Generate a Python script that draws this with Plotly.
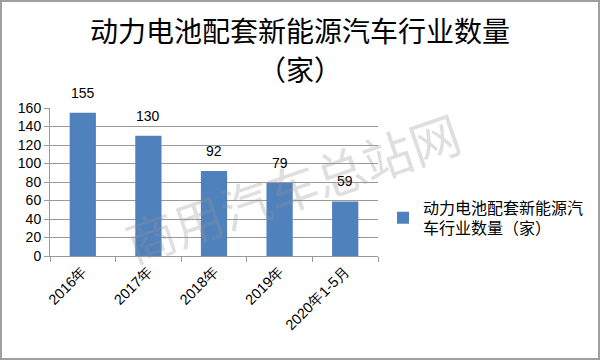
import plotly.graph_objects as go

categories = ["2016年", "2017年", "2018年", "2019年", "2020年1-5月"]
values = [155, 130, 92, 79, 59]
series_name = "动力电池配套新能源汽<br>车行业数量（家）"
title_line1 = "动力电池配套新能源汽车行业数量"
title_line2 = "（家）"
y_ticks = [0, 20, 40, 60, 80, 100, 120, 140, 160]

W, H = 600, 360
L, R, T, B = 50, 222, 108, 104
pw, ph = W - L - R, H - T - B


def px(x):
    return (x - L) / pw


def py(y):
    return (T + ph - y) / ph


fig = go.Figure()
fig.add_trace(go.Bar(
    x=categories, y=values, name=series_name,
    marker=dict(color="#4f81bd", line=dict(width=0)),
    width=0.4, showlegend=True,
))

for c, v in zip(categories, values):
    fig.add_annotation(x=c, y=v, text=str(v), showarrow=False, yanchor="bottom",
                       xanchor="center", yshift=10,
                       font=dict(size=14, color="#000", family="Liberation Sans"))

# title
fig.add_annotation(xref="paper", yref="paper", x=px(300), y=py(30), text=title_line1,
                   showarrow=False, xanchor="center", yanchor="middle",
                   font=dict(size=28, color="#000", family="Noto Sans CJK SC"))
fig.add_annotation(xref="paper", yref="paper", x=px(300), y=py(69), text=title_line2,
                   showarrow=False, xanchor="center", yanchor="middle",
                   font=dict(size=28, color="#000", family="Noto Sans CJK SC"))

# watermark
fig.add_annotation(xref="paper", yref="paper", x=px(292), y=py(186),
                   xanchor="center", yanchor="middle",
                   text="商用汽车总站网", showarrow=False, textangle=-19,
                   font=dict(size=50, color="rgba(150,150,150,0.3)", family="Noto Sans CJK SC"))

# border
fig.add_shape(type="rect", xref="paper", yref="paper",
              x0=px(1), x1=px(599), y0=py(359), y1=py(1),
              line=dict(color="#a0a0a0", width=2), layer="above")

fig.update_layout(
    width=W, height=H,
    margin=dict(l=L, r=R, t=T, b=B, autoexpand=False),
    paper_bgcolor="white", plot_bgcolor="white",
    bargap=0.6,
    legend=dict(x=px(383), y=py(218), xanchor="left", yanchor="middle",
                font=dict(size=16, color="#000", family="Noto Sans CJK SC"),
                bgcolor="rgba(0,0,0,0)", itemwidth=30),
    xaxis=dict(type="category", showline=True, linecolor="#999", linewidth=1,
               ticks="outside", tickson="boundaries", ticklen=5, tickcolor="#999",
               tickangle=-45, tickfont=dict(size=14.5, color="#000", family="Liberation Sans"),
               showgrid=False),
    yaxis=dict(range=[0, 160], tickvals=y_ticks, showline=True, linecolor="#999", linewidth=1,
               ticks="outside", ticklen=5, tickcolor="#999",
               gridcolor="#999", gridwidth=1, zeroline=False,
               tickfont=dict(size=14, color="#000", family="Liberation Sans")),
)

fig.write_html("out.html", config={"displayModeBar": False},
               post_script="document.body.style.margin='0';")
